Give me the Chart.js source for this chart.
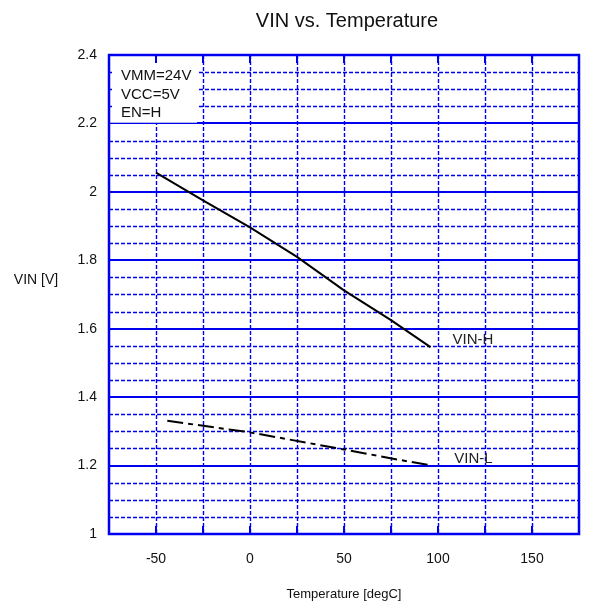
<!DOCTYPE html>
<html>
<head>
<meta charset="utf-8">
<script src="https://cdn.jsdelivr.net/npm/chart.js@4.4.1/dist/chart.umd.min.js"></script>
<style>
  html, body { margin: 0; padding: 0; background: #fff; }
  #wrap { width: 595px; height: 606px; }
</style>
</head>
<body>
<div id="wrap"><canvas id="myChart" width="595" height="606"></canvas></div>
<script>
// VIN threshold vs temperature
const vinHighTemp = [-50, -25, 0, 25, 50, 75, 96]
const vinHigh = [2.056, 1.975, 1.896, 1.81, 1.712, 1.625, 1.546]
const vinLowTemp = [-44, 0, 52, 80, 97]
const vinLow = [1.331, 1.297, 1.245, 1.216, 1.2]

const seriesNames = ["VIN-H", "VIN-L"]
const conditions = ["VMM=24V", "VCC=5V", "EN=H"]

const xMin = -75, xMax = 175, xStep = 25
const yMin = 1, yMax = 2.4, yMajor = 0.2, yMinor = 0.05

const FONT = '"Liberation Sans", Arial, sans-serif'
const BLUE = '#0000f0'

let toPoints = (xs, ys) => xs.map((t, i) => ({ x: t, y: ys[i] }))

const gridPlugin = {
  id: 'gridPlugin',
  beforeDatasetsDraw(chart) {
    const { ctx, chartArea: a, scales: { x, y } } = chart
    ctx.save()
    ctx.strokeStyle = BLUE

    // dashed minor rows and all the temperature columns
    ctx.lineWidth = 1.4
    ctx.setLineDash([4, 2])
    const n = Math.round((yMax - yMin) / yMinor)
    for (let i = 1; i < n; i++) {
      if (i % Math.round(yMajor / yMinor) === 0) continue
      const py = Math.round(y.getPixelForValue(yMin + i * yMinor)) + 0.5
      ctx.beginPath(); ctx.moveTo(a.left, py); ctx.lineTo(a.right, py); ctx.stroke()
    }
    x.ticks.forEach(t => {
      if (t.value <= xMin || t.value >= xMax) return
      const px = Math.round(x.getPixelForValue(t.value)) + 0.5
      ctx.beginPath(); ctx.moveTo(px, a.top); ctx.lineTo(px, a.bottom); ctx.stroke()
    })

    // solid major rows
    ctx.setLineDash([])
    ctx.lineWidth = 2
    y.ticks.forEach(t => {
      if (t.value <= yMin || t.value >= yMax) return
      const py = Math.round(y.getPixelForValue(t.value))
      ctx.beginPath(); ctx.moveTo(a.left, py); ctx.lineTo(a.right, py); ctx.stroke()
    })

    // conditions box in the top left corner
    const boxBottom = Math.round(y.getPixelForValue(2.2)) - 1
    ctx.fillStyle = '#fff'
    ctx.fillRect(a.left + 3, a.top + 1, 85, boxBottom - a.top - 1)
    ctx.strokeStyle = '#b8b8f0'
    ctx.lineWidth = 1
    ctx.beginPath(); ctx.moveTo(a.left, boxBottom + 0.5); ctx.lineTo(a.left + 88, boxBottom + 0.5); ctx.stroke()
    ctx.fillStyle = '#111'
    ctx.font = '15px ' + FONT
    ctx.textBaseline = 'middle'
    ctx.textAlign = 'left'
    conditions.forEach((c, i) => ctx.fillText(c, a.left + 12, a.top + 21 + i * 18.5))
    ctx.restore()
  },
  afterDraw(chart) {
    const { ctx, chartArea: a, scales: { x, y } } = chart
    ctx.save()
    // plot frame with inward ticks
    ctx.strokeStyle = BLUE
    ctx.lineWidth = 2.5
    ctx.strokeRect(a.left, a.top, a.right - a.left, a.bottom - a.top)
    ctx.lineWidth = 2
    x.ticks.forEach(t => {
      const px = Math.round(x.getPixelForValue(t.value))
      ctx.beginPath(); ctx.moveTo(px, a.bottom); ctx.lineTo(px, a.bottom - 8); ctx.stroke()
      ctx.beginPath(); ctx.moveTo(px, a.top); ctx.lineTo(px, a.top + 8); ctx.stroke()
    })

    // title and y axis caption
    ctx.fillStyle = '#111'
    ctx.textBaseline = 'middle'
    ctx.textAlign = 'center'
    ctx.font = '20px ' + FONT
    ctx.fillText('VIN vs. Temperature', (a.left + a.right) / 2 + 3, 21)
    ctx.font = '14px ' + FONT
    ctx.fillText('VIN [V]', 36, 280)

    // curve names next to the last point of each curve
    ctx.font = '15px ' + FONT
    ctx.textAlign = 'left'
    ctx.fillStyle = '#222'
    chart.data.datasets.forEach((ds, i) => {
      const last = ds.data[ds.data.length - 1]
      ctx.fillText(seriesNames[i], x.getPixelForValue(last.x) + 22, y.getPixelForValue(last.y) - 7)
    })
    ctx.restore()
  }
}

let createChart = () => {
  const ctx = document.getElementById("myChart")
  return new Chart(ctx, {
    type: 'line',
    data: {
      datasets: [{
        label: seriesNames[0],
        data: toPoints(vinHighTemp, vinHigh),
        borderColor: '#000',
        borderWidth: 2,
        pointRadius: 0,
        tension: 0
      }, {
        label: seriesNames[1],
        data: toPoints(vinLowTemp, vinLow),
        borderColor: '#000',
        borderWidth: 2,
        borderDash: [16, 5, 5, 5],
        pointRadius: 0,
        tension: 0
      }]
    },
    options: {
      responsive: false,
      animation: false,
      layout: { padding: { top: 55, right: 16, left: 0, bottom: 0 } },
      plugins: {
        legend: { display: false },
        title: { display: false },
        tooltip: { enabled: false }
      },
      scales: {
        x: {
          type: 'linear',
          min: xMin,
          max: xMax,
          grid: { display: false },
          border: { display: false },
          afterFit: s => { s.height = 72 },
          ticks: {
            stepSize: xStep,
            autoSkip: false,
            maxRotation: 0,
            padding: 9,
            color: '#111',
            font: { family: FONT, size: 14 },
            callback: v => (v % 50 === 0 ? String(v) : '')
          },
          title: {
            display: true,
            text: 'Temperature [degC]',
            color: '#111',
            font: { family: FONT, size: 13 },
            padding: { top: 0, bottom: 4 }
          }
        },
        y: {
          min: yMin,
          max: yMax,
          grid: { display: false },
          border: { display: false },
          afterFit: s => { s.width = 109 },
          ticks: {
            stepSize: yMajor,
            autoSkip: false,
            padding: 4,
            color: '#111',
            font: { family: FONT, size: 14 },
            callback: v => String(+v.toFixed(2))
          }
        }
      }
    },
    plugins: [gridPlugin]
  })
}

createChart()
</script>
</body>
</html>
